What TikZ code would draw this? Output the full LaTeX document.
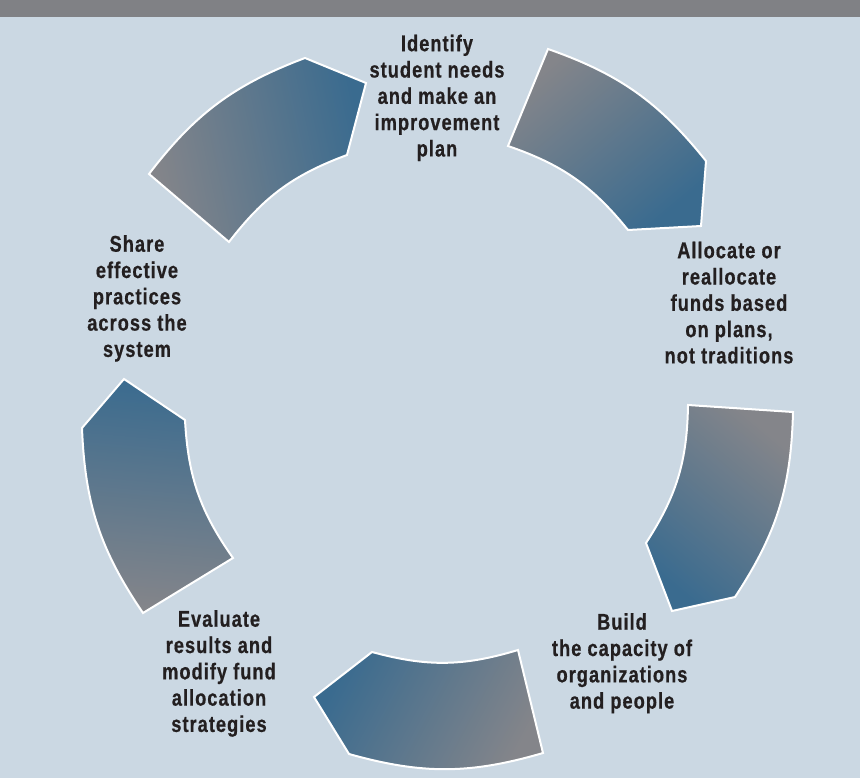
\documentclass[tikz,border=0pt]{standalone}
\usepackage{fontspec}
\setmainfont{Liberation Sans}[FakeStretch=0.8, LetterSpace=4.5, FakeBold=0.6]
\definecolor{bg}{HTML}{CBD8E3}
\definecolor{barg}{HTML}{808185}
\definecolor{sgray}{HTML}{84858A}
\definecolor{sblue}{HTML}{3A6B8F}
\definecolor{txt}{HTML}{231F20}
\begin{document}
\begin{tikzpicture}[x=1pt,y=-1pt,
  seg/.style={draw=white, line width=2pt, line join=miter, top color=sblue, bottom color=sgray},
  lbl/.style={font=\bfseries\fontsize{22.8}{26.3}\selectfont, text=txt, align=center, inner sep=0pt, anchor=north}]
\useasboundingbox (0,0) rectangle (860,778);
\fill[bg] (0,0) rectangle (860,778);
\fill[barg] (0,0) rectangle (860,17);
% segments
\path[seg, shading angle=-78] (149,174) to[bend left=16] (305,58) -- (366,83) -- (347,155) to[bend right=16] (229,242) -- cycle;
\path[seg, shading angle=-140] (548,49) to[bend left=16] (706,161) -- (701,226) -- (628,230) to[bend right=16] (508,146) -- cycle;
\path[seg, shading angle=140] (793,412) to[bend left=16] (735,597) -- (672,611) -- (646,543) to[bend right=16] (688,405) -- cycle;
\path[seg, shading angle=62] (543,753) to[bend left=16] (349,754) -- (314,697) -- (372,652) to[bend right=16] (518,650) -- cycle;
\path[seg, shading angle=-5] (143,613) to[bend left=16] (82,428) -- (124,379) -- (185,420) to[bend right=16] (233,558) -- cycle;
% labels
\node[lbl] (identify) at (437,34.5) {Identify\\student needs\\and make an\\improvement\\plan};
\node[lbl] (allocate) at (729,241.5) {Allocate or\\reallocate\\funds based\\on plans,\\not traditions};
\node[lbl] (build) at (622,613) {Build\\the capacity of\\organizations\\and people};
\node[lbl] (evaluate) at (219,610) {Evaluate\\results and\\modify fund\\allocation\\strategies};
\node[lbl] (share) at (137,235) {Share\\effective\\practices\\across the\\system};
\end{tikzpicture}
\end{document}
